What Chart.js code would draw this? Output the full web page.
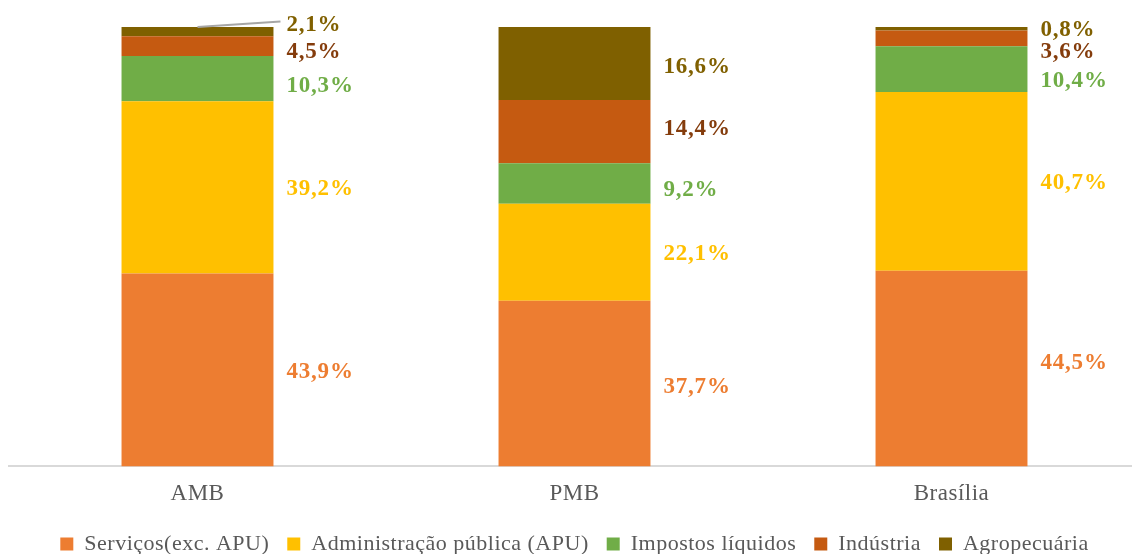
<!DOCTYPE html>
<html>
<head>
<meta charset="utf-8">
<script src="https://cdn.jsdelivr.net/npm/chart.js@4.4.1/dist/chart.umd.min.js"></script>
<style>
  html, body { margin: 0; padding: 0; background: #fff; overflow: hidden; }
  .chart { width: 1140px; height: 565px; }
</style>
</head>
<body>
<div class="chart">
  <canvas id="myChart"></canvas>
</div>
<script>
const categories = ['AMB', 'PMB', 'Brasília'];

const servicos = [43.9, 37.7, 44.5];
const adminPublica = [39.2, 22.1, 40.7];
const impostos = [10.3, 9.2, 10.4];
const industria = [4.5, 14.4, 3.6];
const agropecuaria = [2.1, 16.6, 0.8];

// pixel nudges for the value labels (layout only), per series per category
const labelNudge = {
  servicos: [2, 3, -6],
  adminPublica: [2, 2, 2],
  impostos: [7, 7, 12],
  industria: [6, -3, 14],
  agropecuaria: [-7, 4, 1]
};

const serif = '"Liberation Serif", "Times New Roman", serif';

// the reference text is a little spread out
const spacing = {
  id: 'spacing',
  beforeLayout(chart) { chart.ctx.letterSpacing = '0.5px'; },
  beforeDraw(chart) { chart.ctx.letterSpacing = '0.5px'; }
};

const valueLabels = {
  id: 'valueLabels',
  afterDatasetsDraw(chart) {
    const ctx = chart.ctx;
    ctx.save();
    ctx.letterSpacing = '0.8px';
    ctx.font = 'bold 23px ' + serif;
    ctx.textAlign = 'left';
    ctx.textBaseline = 'middle';
    chart.data.datasets.forEach((ds, i) => {
      const meta = chart.getDatasetMeta(i);
      meta.data.forEach((bar, j) => {
        const top = Math.min(bar.y, bar.base);
        const bottom = Math.max(bar.y, bar.base);
        const x = bar.x + bar.width / 2 + 13;
        const y = (top + bottom) / 2 + labelNudge[ds.key][j];
        if (ds.key === 'agropecuaria' && j === 0) {
          // leader line
          ctx.strokeStyle = '#A6A6A6';
          ctx.lineWidth = 2;
          ctx.beginPath();
          ctx.moveTo(bar.x, top);
          ctx.lineTo(x - 6, y - 3);
          ctx.stroke();
        }
        ctx.fillStyle = ds.labelColor;
        ctx.fillText(ds.data[j].toFixed(1).replace('.', ',') + '%', x, y);
      });
    });
    ctx.restore();
  }
};

const ctx = document.getElementById('myChart').getContext('2d');
new Chart(ctx, {
  type: 'bar',
  data: {
    labels: categories,
    datasets: [
      { key: 'servicos', label: 'Serviços(exc. APU)', data: servicos, backgroundColor: '#ED7D31', labelColor: '#ED7D31' },
      { key: 'adminPublica', label: 'Administração pública (APU)', data: adminPublica, backgroundColor: '#FFC000', labelColor: '#FFC000' },
      { key: 'impostos', label: 'Impostos líquidos', data: impostos, backgroundColor: '#70AD47', labelColor: '#70AD47' },
      { key: 'industria', label: 'Indústria', data: industria, backgroundColor: '#C55A11', labelColor: '#843C0C' },
      { key: 'agropecuaria', label: 'Agropecuária', data: agropecuaria, backgroundColor: '#7F6000', labelColor: '#806000' }
    ]
  },
  options: {
    responsive: true,
    maintainAspectRatio: false,
    animation: false,
    categoryPercentage: 1,
    barPercentage: 0.403,
    layout: { padding: { top: 27, left: 9, right: 0, bottom: 0 } },
    scales: {
      x: {
        stacked: true,
        grid: { display: false, drawTicks: false },
        border: { color: '#D9D9D9', width: 2 },
        ticks: { color: '#595959', font: { family: serif, size: 23 }, padding: 14 },
        afterFit(scale) { scale.height -= 7; }
      },
      y: {
        stacked: true,
        display: false,
        min: 0,
        max: 100
      }
    },
    plugins: {
      legend: {
        position: 'bottom',
        labels: {
          color: '#595959',
          font: { family: serif, size: 22 },
          boxWidth: 13,
          boxHeight: 13,
          padding: 18
        }
      },
      tooltip: { enabled: false }
    }
  },
  plugins: [spacing, valueLabels]
});
</script>
</body>
</html>
